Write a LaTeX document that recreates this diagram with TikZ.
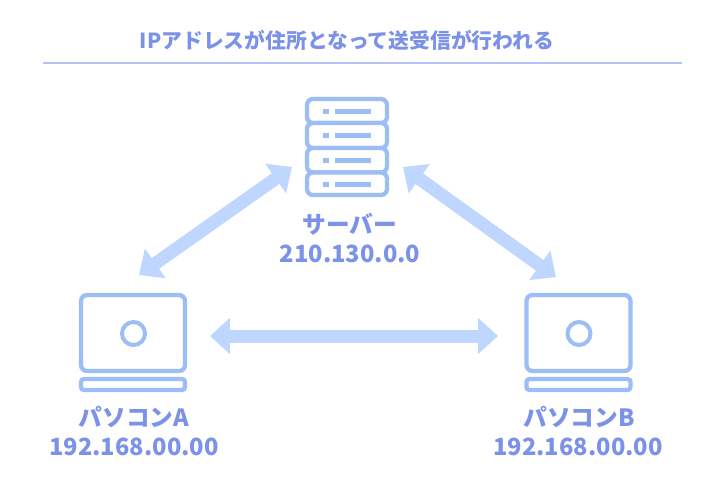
\documentclass[tikz,border=0pt]{standalone}
\usepackage{fontspec}
\setmainfont{Noto Sans CJK JP}
\usetikzlibrary{arrows.meta}
\definecolor{txt}{HTML}{7C92E8}
\definecolor{ico}{HTML}{9DBDF6}
\definecolor{arr}{HTML}{BFD6FF}
\definecolor{rule}{HTML}{B4C2F4}
\tikzset{
 lbl/.style={text=txt,font=\fontsize{23.7}{24}\selectfont\bfseries,inner sep=0pt,anchor=center},
 ttl/.style={text=txt,font=\fontsize{20.8}{21}\selectfont\bfseries,inner sep=0pt,anchor=center},
 shell/.style={draw=ico,line width=4.3pt,rounded corners=6pt,fill=white},
 dotbar/.style={fill=ico,draw=none},
 link/.style={draw=arr,line width=13pt,{Triangle[length=20pt,width=35pt]}-{Triangle[length=20pt,width=35pt]}},
}
\begin{document}
\begin{tikzpicture}[x=1pt,y=-1pt]
\useasboundingbox (0,0) rectangle (721,483);
\fill[white] (0,0) rectangle (721,483);
\node[ttl] (title) at (347,40) {IPアドレスが住所となって送受信が行われる};
\coordinate (ruleL) at (43,63);
\coordinate (ruleR) at (682,63);
\draw[rule,line width=1.2pt] (ruleL) -- (ruleR);
% server
\foreach \n/\a/\b/\c in {1/99/123/111.5,2/123/148/135.5,3/148/172.5/160,4/172.5/195/184.5}{
 \draw[shell] (307,\a) rectangle (387,\b);
 \fill[dotbar] (323,\c-2.5) rectangle (328.5,\c+2.5);
 \fill[dotbar] (335,\c-2.5) rectangle (371,\c+2.5);
}
\node[lbl] (srv) at (350,224) {サーバー};
\node[lbl] (srvip) at (350,254) {210.130.0.0};
% laptops
\foreach \d/\nm in {0/A,445.5/B}{
 \draw[shell] (81+\d,295) rectangle (185+\d,371);
 \draw[shell,rounded corners=3pt] (81+\d,379) rectangle (185+\d,390);
 \draw[draw=ico,line width=4pt] (133.5+\d,333.5) circle (11.5);
}
\node[lbl] (pca) at (134,417) {パソコンA};
\node[lbl] (pcaip) at (134,447) {192.168.00.00};
\node[lbl] (pcb) at (579,417) {パソコンB};
\node[lbl] (pcbip) at (578,447) {192.168.00.00};
% arrows
\coordinate (a1) at (139,275); \coordinate (a2) at (292,167);
\coordinate (b1) at (403,167); \coordinate (b2) at (556,277);
\coordinate (c1) at (210,336); \coordinate (c2) at (498,336);
\draw[link] (a1) -- (a2);
\draw[link] (b1) -- (b2);
\draw[link] (c1) -- (c2);
\end{tikzpicture}
\end{document}
